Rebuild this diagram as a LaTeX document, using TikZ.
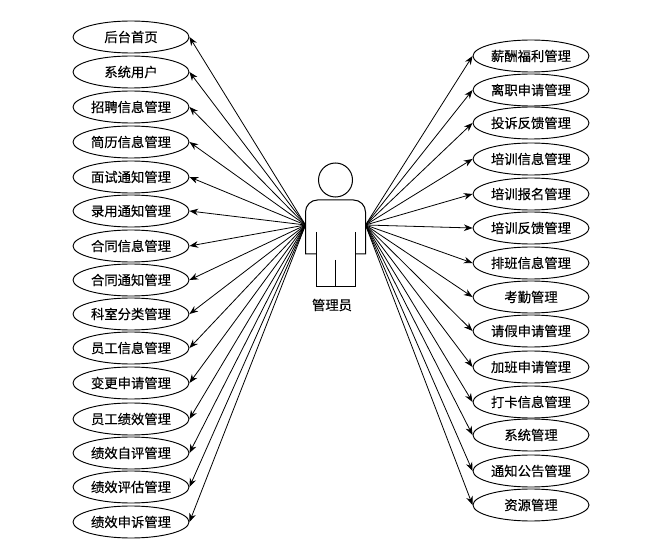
\documentclass[tikz,border=0pt]{standalone}
\usepackage{fontspec}
\setmainfont[FakeBold=0.25]{Noto Sans CJK SC}
\usetikzlibrary{shapes.geometric,arrows.meta}
\tikzset{
  usecase/.style={draw=black,fill=white,ellipse,line width=0.7pt,minimum width=87pt,minimum height=24pt,inner sep=0pt,font=\fontsize{10pt}{12pt}\selectfont},
  conn/.style={draw=black,line width=0.6pt,-{Stealth[length=6.5pt,width=5pt]}},
  actorline/.style={draw=black,line width=0.75pt},
  actorlabel/.style={inner sep=0pt,font=\fontsize{10pt}{12pt}\selectfont}
}
\begin{document}
\begin{tikzpicture}[x=0.75pt,y=-0.75pt]
\useasboundingbox (0,0) rectangle (665,556);
\fill[white] (0,0) rectangle (665,556);
\coordinate (srcL) at (305.5,225);
\coordinate (srcR) at (365.5,225);
\foreach \id/\ypos/\txt in {
 l1/37/后台首页,l2/72/系统用户,l3/107/招聘信息管理,l4/142/简历信息管理,l5/177/面试通知管理,
 l6/211/录用通知管理,l7/246/合同信息管理,l8/280/合同通知管理,l9/314/科室分类管理,l10/348/员工信息管理,
 l11/383/变更申请管理,l12/419/员工绩效管理,l13/453/绩效自评管理,l14/487/绩效评估管理,l15/522/绩效申诉管理}{
  \node[usecase] (\id) at (131,\ypos) {\txt};
  \draw[conn] (srcL) -- (\id.east);
}
\foreach \id/\ypos/\txt in {
 r1/56/薪酬福利管理,r2/90/离职申请管理,r3/123/投诉反馈管理,r4/159/培训信息管理,r5/194/培训报名管理,
 r6/228/培训反馈管理,r7/263/排班信息管理,r8/297/考勤管理,r9/331/请假申请管理,r10/367/加班申请管理,
 r11/402/打卡信息管理,r12/435/系统管理,r13/471/通知公告管理,r14/505/资源管理}{
  \node[usecase] (\id) at (531,\ypos) {\txt};
  \draw[conn] (srcR) -- (\id.west);
}
% actor
\draw[actorline] (335.5,180) circle (17);
\draw[actorline] (316,254) -- (305.5,254) -- (305.5,212) arc[start angle=180,end angle=270,radius=12] -- (353.5,200) arc[start angle=270,end angle=360,radius=12] -- (365.5,254) -- (355,254);
\draw[actorline] (316,232) -- (316,287) -- (355,287) -- (355,232);
\draw[actorline] (335.5,260) -- (335.5,287);
\node[actorlabel] (actor) at (332,305) {管理员};
\end{tikzpicture}
\end{document}
